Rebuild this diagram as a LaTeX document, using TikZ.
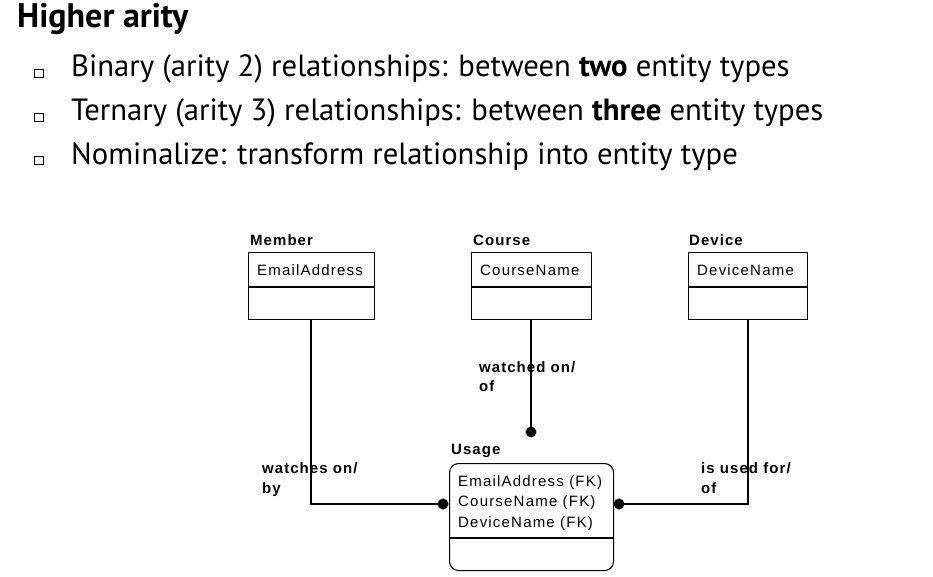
\documentclass[tikz,border=0pt]{standalone}
\usepackage{fontspec}
\newfontfamily\slidefont{PT Sans}
\newfontfamily\erfont[LetterSpace=8]{Liberation Sans}
\newfontfamily\erbold[LetterSpace=7]{Liberation Sans Bold}
\begin{document}
\begin{tikzpicture}[x=1pt,y=-1pt,
  slide/.style={inner sep=0pt, anchor=base west, font=\slidefont\fontsize{30.7}{36}\selectfont},
  bulletbox/.style={draw, line width=0.9pt, minimum width=8.5pt, minimum height=8.5pt, inner sep=0pt, anchor=south west},
  ent/.style={draw, line width=1.1pt, anchor=north west, inner sep=0pt},
  lbl/.style={inner sep=0pt, anchor=base west, font=\erbold\fontsize{15}{18}\selectfont},
  attr/.style={inner sep=0pt, anchor=base west, font=\erfont\fontsize{15}{18}\selectfont},
  conn/.style={line width=1.1pt},
  dot/.style={circle, fill=black, minimum size=11pt, inner sep=0pt}]
\useasboundingbox (0,0) rectangle (933,577);
% slide text
\node[slide, font=\slidefont\bfseries\fontsize{34}{40}\selectfont] (title) at (17,28) {Higher arity};
\node[bulletbox] (b1) at (34,78) {};
\node[bulletbox] (b2) at (34,122) {};
\node[bulletbox] (b3) at (34,165) {};
\node[slide] (t1) at (71,77) {Binary (arity 2) relationships: between \textbf{two} entity types};
\node[slide] (t2) at (71,121) {Ternary (arity 3) relationships: between \textbf{three} entity types};
\node[slide] (t3) at (71,165) {Nominalize: transform relationship into entity type};
% entities
\node[ent, minimum width=126pt, minimum height=67pt] (member) at (248,252) {};
\draw[line width=1.1pt] (248,287) -- (374,287);
\node[lbl] (memberl) at (250,245) {Member};
\node[attr] (membera) at (257,275) {EmailAddress};

\node[ent, minimum width=120pt, minimum height=67pt] (course) at (471,252) {};
\draw[line width=1.1pt] (471,287) -- (591,287);
\node[lbl] (coursel) at (473,245) {Course};
\node[attr] (coursea) at (480,275) {CourseName};

\node[ent, minimum width=119pt, minimum height=67pt] (device) at (688,252) {};
\draw[line width=1.1pt] (688,287) -- (807,287);
\node[lbl] (devicel) at (689,245) {Device};
\node[attr] (devicea) at (697,275) {DeviceName};

\node[ent, rounded corners=9pt, minimum width=164pt, minimum height=107pt] (usage) at (449,463) {};
\draw[line width=1.1pt] (449,538) -- (613,538);
\node[lbl] (usagel) at (451,454) {Usage};
\node[attr] (ua1) at (458,486) {EmailAddress (FK)};
\node[attr] (ua2) at (458,506) {CourseName (FK)};
\node[attr] (ua3) at (458,527) {DeviceName (FK)};
% connectors
\node[dot] (d1) at (443,504) {};
\node[dot] (d2) at (531,432) {};
\node[dot] (d3) at (619,504) {};
\coordinate (mx) at (311,319);
\coordinate (cx) at (531,319);
\coordinate (dx) at (748,319);
\draw[conn] (mx) |- (d1.center);
\draw[conn] (cx) -- (d2.center);
\draw[conn] (dx) |- (d3.center);
% connector labels
\node[lbl] (l1a) at (262,473) {watches on/};
\node[lbl] (l1b) at (262,493) {by};
\node[lbl] (l2a) at (479,372) {watched on/};
\node[lbl] (l2b) at (479,391) {of};
\node[lbl] (l3a) at (701,473) {is used for/};
\node[lbl] (l3b) at (701,493) {of};
\end{tikzpicture}
\end{document}
